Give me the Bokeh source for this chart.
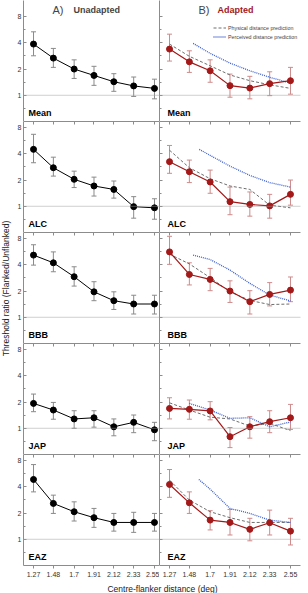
import math
from bokeh.plotting import figure
from bokeh.models import (ColumnDataSource, Whisker, TeeHead, Span, Label, FixedTicker,
                          Range1d, LinearAxis, Legend, LegendItem)
from bokeh.layouts import row, column
from bokeh.embed import file_html
from bokeh.resources import INLINE

# Centre-flanker distances (deg) and their axis labels
distances = [1.27, 1.48, 1.7, 1.91, 2.12, 2.33, 2.55]
distance_labels = ["1.27", "1.48", "1.7", "1.91", "2.12", "2.33", "2.55"]
subjects = ["Mean", "ALC", "BBB", "JAP", "EAZ"]

# Threshold ratio (flanked / unflanked), unadapted condition
unadapted = {
    "Mean": [3.87, 2.67, 2.00, 1.69, 1.43, 1.28, 1.20],
    "ALC": [4.50, 2.77, 2.04, 1.71, 1.56, 0.99, 0.96],
    "BBB": [5.17, 4.22, 2.92, 1.96, 1.55, 1.42, 1.42],
    "JAP": [1.93, 1.62, 1.28, 1.32, 1.04, 1.17, 0.96],
    "EAZ": [4.86, 2.58, 2.07, 1.77, 1.56, 1.56, 1.56],
}
unadapted_hi = {
    "Mean": [5.35, 3.45, 2.55, 2.15, 1.77, 1.62, 1.53],
    "ALC": [6.70, 3.66, 2.53, 2.16, 1.95, 1.29, 1.22],
    "BBB": [6.80, 5.63, 3.80, 2.56, 1.96, 1.79, 1.79],
    "JAP": [2.47, 1.98, 1.59, 1.59, 1.28, 1.42, 1.17],
    "EAZ": [7.20, 3.21, 2.69, 2.26, 1.98, 2.04, 1.98],
}
unadapted_lo = {
    "Mean": [2.84, 2.09, 1.56, 1.30, 1.11, 0.97, 0.91],
    "ALC": [3.16, 2.22, 1.64, 1.31, 1.24, 0.73, 0.71],
    "BBB": [3.97, 3.33, 2.28, 1.55, 1.23, 1.09, 1.09],
    "JAP": [1.55, 1.27, 1.00, 1.03, 0.82, 0.89, 0.72],
    "EAZ": [3.50, 1.98, 1.62, 1.37, 1.24, 1.20, 1.24],
}

# Threshold ratio, adapted condition
adapted = {
    "Mean": [3.39, 2.42, 1.91, 1.29, 1.21, 1.36, 1.47],
    "ALC": [3.25, 2.49, 1.90, 1.13, 1.05, 1.01, 1.37],
    "BBB": [5.63, 3.10, 2.72, 2.00, 1.51, 1.83, 2.05],
    "JAP": [1.69, 1.65, 1.58, 0.80, 1.04, 1.19, 1.32],
    "EAZ": [4.26, 2.62, 1.66, 1.56, 1.30, 1.55, 1.24],
}
adapted_hi = {
    "Mean": [5.03, 3.24, 2.55, 1.75, 1.65, 1.86, 2.09],
    "ALC": [4.99, 3.39, 2.60, 1.66, 1.46, 1.37, 2.00],
    "BBB": [8.50, 4.22, 3.64, 2.62, 2.02, 2.50, 2.90],
    "JAP": [2.24, 2.11, 2.02, 1.02, 1.36, 1.59, 1.88],
    "EAZ": [6.32, 3.50, 2.13, 2.20, 1.74, 2.16, 1.74],
}
adapted_lo = {
    "Mean": [2.47, 1.83, 1.41, 0.95, 0.91, 0.99, 1.03],
    "ALC": [2.39, 1.87, 1.41, 0.80, 0.77, 0.73, 1.03],
    "BBB": [4.05, 2.35, 2.02, 1.48, 1.09, 1.35, 1.51],
    "JAP": [1.28, 1.27, 1.25, 0.60, 0.77, 0.89, 0.97],
    "EAZ": [3.03, 1.98, 1.28, 1.12, 0.96, 1.12, 0.86],
}

# Model predictions for the adapted condition
physical_prediction = {
    "Mean": [3.87, 2.80, 2.18, 1.71, 1.47, 1.32, 1.20],
    "ALC": [4.40, 2.77, 2.07, 1.71, 1.56, 1.03, 0.96],
    "BBB": [5.30, 4.10, 2.85, 1.96, 1.56, 1.40, 1.42],
    "JAP": [1.96, 1.62, 1.34, 1.28, 1.06, 1.14, 0.94],
    "EAZ": [4.78, 2.82, 2.07, 1.77, 1.56, 1.56, 1.56],
}
perceived_x = {
    "Mean": [1.52, 1.70, 1.91, 2.12, 2.33, 2.55],
    "ALC": [1.585, 1.70, 1.91, 2.12, 2.33, 2.55],
    "BBB": [1.52, 1.70, 1.91, 2.12, 2.33, 2.55],
    "JAP": [1.48, 1.70, 1.91, 2.12, 2.33, 2.55],
    "EAZ": [1.58, 1.70, 1.91, 2.12, 2.33, 2.55],
}
perceived_prediction = {
    "Mean": [3.94, 3.03, 2.34, 1.91, 1.61, 1.38],
    "ALC": [4.50, 3.84, 2.89, 2.26, 1.87, 1.66],
    "BBB": [5.17, 4.60, 3.48, 2.45, 1.80, 1.54],
    "JAP": [1.93, 1.62, 1.30, 1.32, 1.04, 1.18],
    "EAZ": [4.86, 3.76, 2.26, 1.98, 1.66, 1.56],
}

FONT = "Liberation Sans"
AXIS_GREY = "#8c8c8c"
RED = "#a31818"
RED_ERR = "#cf8a8a"
BLUE = "#3a5fd0"
Y_START, Y_END = 0.5, 9.4
X_START = 1.164
PX_PER_DEG = 94.5
FRAME_H = 111
TOP_PAD = 10          # room above the first row for the column headings
LEFT_W, RIGHT_W = 136, 141
overrides = {d: s for d, s in zip(distances, distance_labels)}


def hide_labels(ax):
    ax.major_label_text_font_size = "0px"
    ax.major_label_text_color = None
    ax.major_label_standoff = 0


def style_y_axis(p, show_labels):
    ax = p.yaxis[0]
    ax.ticker = FixedTicker(ticks=[1, 2, 4, 8], minor_ticks=[0.707, 1.414, 2.828, 5.657])
    ax.major_label_overrides = {1: "1", 2: "2", 4: "4", 8: "8"}
    ax.axis_line_color = AXIS_GREY
    ax.major_tick_line_color = AXIS_GREY
    ax.minor_tick_line_color = AXIS_GREY
    ax.major_tick_in = 3
    ax.major_tick_out = 0
    ax.minor_tick_in = 2
    ax.minor_tick_out = 0
    if show_labels:
        ax.major_label_text_font_size = "7px"
        ax.major_label_text_font = FONT
        ax.major_label_text_color = "#333333"
        ax.major_label_standoff = 2
    else:
        hide_labels(ax)


def make_panel(subject, side, idx):
    fw = LEFT_W if side == "L" else RIGHT_W
    fh = FRAME_H + (TOP_PAD if idx == 0 else 0)
    # the first row keeps the same log scale but reaches up to the headings
    y_end = Y_END * (Y_END / Y_START) ** (TOP_PAD / FRAME_H) if idx == 0 else Y_END
    p = figure(frame_width=fw, frame_height=fh,
               x_range=Range1d(X_START, X_START + fw / PX_PER_DEG),
               y_range=Range1d(Y_START, y_end), y_axis_type="log",
               x_axis_location=None, output_backend="svg", toolbar_location=None,
               min_border_left=11 if side == "L" else 0,
               min_border_right=0 if side == "L" else 8,
               min_border_top=0, min_border_bottom=0)
    p.outline_line_color = None
    p.grid.visible = False
    p.background_fill_color = "white"
    style_y_axis(p, side == "L")

    if idx > 0:
        top_ax = LinearAxis(ticker=FixedTicker(ticks=distances))
        top_ax.axis_line_color = AXIS_GREY
        top_ax.major_tick_line_color = AXIS_GREY
        top_ax.major_tick_in = 3
        top_ax.major_tick_out = 0
        top_ax.minor_tick_line_color = None
        hide_labels(top_ax)
        p.add_layout(top_ax, "above")
    if idx == 4:
        bot_ax = LinearAxis(ticker=FixedTicker(ticks=distances))
        bot_ax.major_label_overrides = overrides
        bot_ax.axis_line_color = AXIS_GREY
        bot_ax.major_tick_line_color = AXIS_GREY
        bot_ax.major_tick_in = 0
        bot_ax.major_tick_out = 3
        bot_ax.minor_tick_line_color = None
        bot_ax.major_label_text_font_size = "7px"
        bot_ax.major_label_text_font = FONT
        bot_ax.major_label_text_color = "#333333"
        bot_ax.major_label_standoff = 3
        p.add_layout(bot_ax, "below")

    p.add_layout(Span(location=1, dimension="width", line_color="#a0a0a0",
                      line_dash="1 1", line_width=1))

    if side == "L":
        src = ColumnDataSource(dict(x=distances, y=unadapted[subject],
                                    lo=unadapted_lo[subject], hi=unadapted_hi[subject]))
        p.add_layout(Whisker(source=src, base="x", upper="hi", lower="lo",
                             line_color="#8a8a8a", line_width=1,
                             upper_head=TeeHead(size=5, line_color="#8a8a8a", line_width=1),
                             lower_head=TeeHead(size=5, line_color="#8a8a8a", line_width=1)))
        p.line("x", "y", source=src, line_color="black", line_width=1)
        p.scatter("x", "y", source=src, size=6, color="black")
    else:
        src = ColumnDataSource(dict(x=distances, y=adapted[subject],
                                    lo=adapted_lo[subject], hi=adapted_hi[subject]))
        phys = p.line(distances, physical_prediction[subject], line_color="#6e6e6e",
                      line_width=1, line_dash="3 2")
        perc = p.line(perceived_x[subject], perceived_prediction[subject], line_color=BLUE,
                      line_width=1.3, line_dash="1 1")
        p.add_layout(Whisker(source=src, base="x", upper="hi", lower="lo",
                             line_color=RED_ERR, line_width=1,
                             upper_head=TeeHead(size=5, line_color=RED_ERR, line_width=1),
                             lower_head=TeeHead(size=5, line_color=RED_ERR, line_width=1)))
        p.line("x", "y", source=src, line_color=RED, line_width=1.2)
        p.scatter("x", "y", source=src, size=6, color=RED)
        if idx == 0:
            legend = Legend(items=[
                LegendItem(label="Physical distance prediction", renderers=[phys]),
                LegendItem(label="Perceived distance prediction", renderers=[perc]),
            ], location=(54, 81))
            legend.label_text_font_size = "5.3px"
            legend.label_text_font = FONT
            legend.label_text_color = "#444444"
            legend.glyph_width = 13
            legend.glyph_height = 7
            legend.label_height = 7
            legend.label_standoff = 2
            legend.spacing = 2
            legend.padding = 0
            legend.margin = 0
            legend.border_line_alpha = 0
            legend.background_fill_alpha = 0
            p.add_layout(legend)

    p.add_layout(Label(x=5 if side == "L" else 8, y=9, x_units="screen", y_units="screen",
                       text=subject, text_font=FONT, text_font_size="9px",
                       text_font_style="bold", text_baseline="middle", text_color="black"))

    if idx == 0:
        head_y = fh - 9
        if side == "L":
            p.add_layout(Label(x=29, y=head_y, x_units="screen", y_units="screen",
                               text="A)", text_font=FONT, text_font_size="11px",
                               text_baseline="middle"))
            p.add_layout(Label(x=50, y=head_y, x_units="screen", y_units="screen",
                               text="Unadapted", text_font=FONT, text_font_size="9px",
                               text_font_style="bold", text_baseline="middle"))
        else:
            p.add_layout(Label(x=39, y=head_y, x_units="screen", y_units="screen",
                               text="B)", text_font=FONT, text_font_size="11px",
                               text_baseline="middle"))
            p.add_layout(Label(x=58, y=head_y, x_units="screen", y_units="screen",
                               text="Adapted", text_font=FONT, text_font_size="9px",
                               text_font_style="bold", text_baseline="middle",
                               text_color=RED))
    return p


left_panels = [make_panel(s, "L", i) for i, s in enumerate(subjects)]
right_panels = [make_panel(s, "R", i) for i, s in enumerate(subjects)]


def blank(width, height):
    f = figure(width=width, height=height, x_range=(0, 1), y_range=(0, 1),
               output_backend="svg", toolbar_location=None,
               min_border_left=0, min_border_right=0, min_border_top=0, min_border_bottom=0)
    f.axis.visible = False
    f.grid.visible = False
    f.outline_line_color = None
    return f


ytitle = blank(12, 565)
ytitle.add_layout(Label(x=5, y=565 - 288, x_units="screen", y_units="screen",
                        text="Threshold ratio (Flanked/Unflanked)", angle=math.pi / 2,
                        text_font=FONT, text_font_size="8.5px", text_align="center",
                        text_baseline="middle", text_color="#222222"))

xtitle = blank(308, 14)
xtitle.add_layout(Label(x=162, y=5, x_units="screen", y_units="screen",
                        text="Centre-flanker distance (deg)", text_font=FONT,
                        text_font_size="8.5px", text_align="center",
                        text_baseline="middle", text_color="#222222"))

layout = column(row(ytitle, column(*left_panels), column(*right_panels)), xtitle)

with open("out.html", "w") as fh_out:
    fh_out.write(file_html(layout, INLINE))
